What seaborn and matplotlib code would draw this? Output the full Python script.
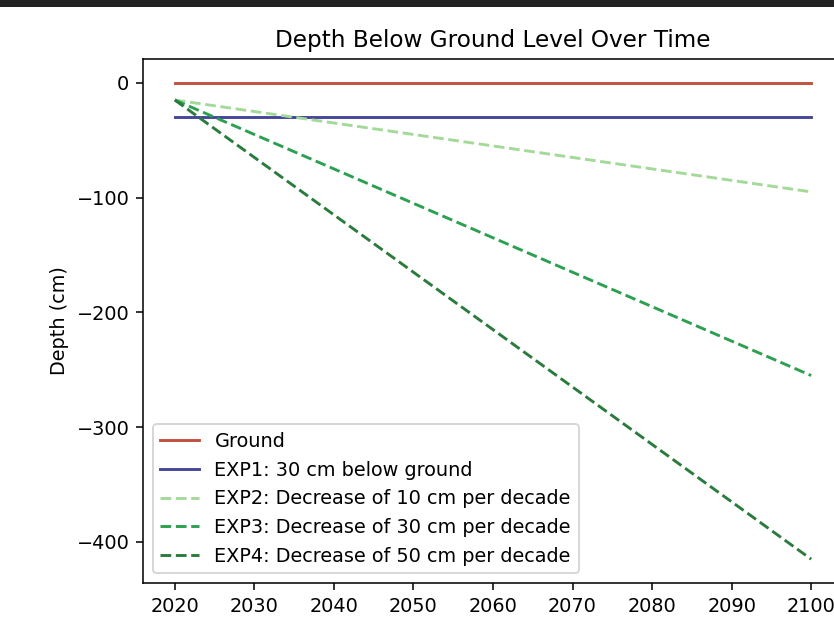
import matplotlib
matplotlib.use("Agg")
import matplotlib.pyplot as plt
import seaborn as sns
import pandas as pd
from matplotlib.patches import Rectangle

years = [2020, 2030, 2040, 2050, 2060, 2070, 2080, 2090, 2100]
ground = [0, 0, 0, 0, 0, 0, 0, 0, 0]
exp1 = [-30, -30, -30, -30, -30, -30, -30, -30, -30]
exp2 = [-15, -25, -35, -45, -55, -65, -75, -85, -95]
exp3 = [-15, -45, -75, -105, -135, -165, -195, -225, -255]
exp4 = [-15, -65, -115, -165, -215, -265, -315, -365, -415]

labels = ["Ground", "EXP1: 30 cm below ground",
          "EXP2: Decrease of 10 cm per decade",
          "EXP3: Decrease of 30 cm per decade",
          "EXP4: Decrease of 50 cm per decade"]
series = [ground, exp1, exp2, exp3, exp4]
colors = ["#c0503f", "#45459a", "#a5d99a", "#2ca050", "#2a7b3c"]
styles = ["-", "-", "--", "--", "--"]

dpi = 139
fig = plt.figure(figsize=(834 / dpi, 622 / dpi), dpi=dpi)
ax = fig.add_axes([143 / 834, 1 - 583 / 622, 700 / 834, 524 / 622])

for lab, vals, c, ls in zip(labels, series, colors, styles):
    df = pd.DataFrame({"Year": years, "Depth": vals})
    sns.lineplot(data=df, x="Year", y="Depth", ax=ax, color=c, linestyle=ls,
                 label=lab, linewidth=1.5)

ax.set_title("Depth Below Ground Level Over Time")
ax.set_xlabel("Year")
ax.set_ylabel("Depth (cm)")
ax.set_xticks(years)
ax.set_xlim(2016, 2104)
ax.legend(loc="lower left")

fig.patches.append(Rectangle((0, 1 - 7 / 622), 1, 7 / 622, transform=fig.transFigure,
                             facecolor="#222222", edgecolor="none", zorder=10))

fig.savefig("out.png", dpi=dpi)
